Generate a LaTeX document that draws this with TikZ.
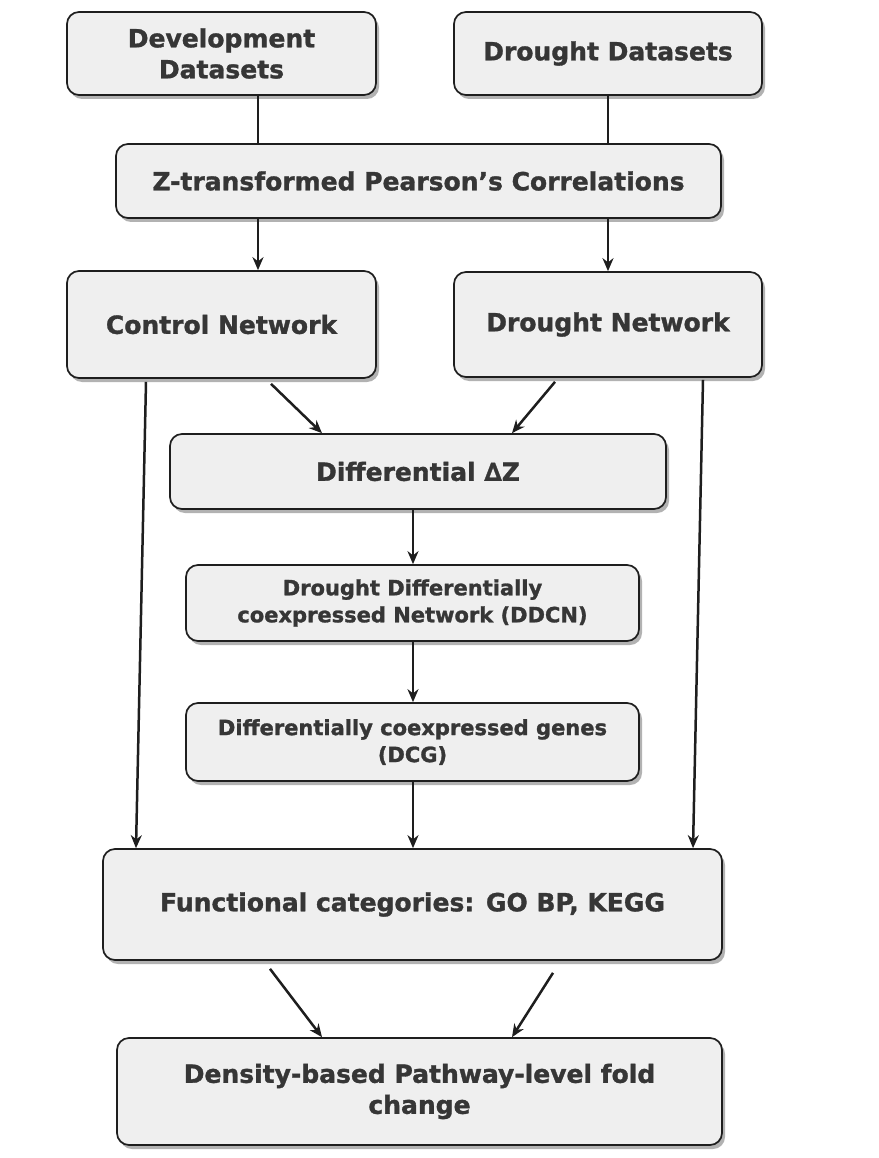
\documentclass[tikz,border=0pt]{standalone}
\usepackage{fontspec}
\setmainfont{DejaVu Sans}[BoldFeatures={FakeBold=1.3}]
\usetikzlibrary{shadows,calc,arrows.meta}
\definecolor{boxfill}{HTML}{EFEFEF}
\definecolor{textcol}{HTML}{363636}
\definecolor{linecol}{HTML}{1E1E1E}
\tikzset{
  box/.style={draw=linecol, line width=1.7pt, fill=boxfill, rounded corners=12pt,
    drop shadow={shadow xshift=3pt, shadow yshift=-4pt, opacity=0.3, fill=black},
    align=center, text=textcol, inner sep=0pt, anchor=center},
  bigtxt/.style={font=\bfseries\fontsize{25}{31}\selectfont},
  smalltxt/.style={font=\bfseries\fontsize{21}{27}\selectfont},
  conn/.style={draw=linecol, line width=2.5pt},
  arr/.style={conn, -{Stealth[length=13pt,width=11pt]}}
}
\begin{document}
\begin{tikzpicture}[x=1pt,y=-1pt]
\useasboundingbox[fill=white] (0,0) rectangle (878,1158);
\node[box,bigtxt,minimum width=309pt,minimum height=83pt] (dev) at (221.5,53.5) {Development\\Datasets};
\node[box,bigtxt,minimum width=308pt,minimum height=83pt] (dd) at (608,53.5) {Drought Datasets};
\node[box,bigtxt,minimum width=605pt,minimum height=74pt] (zt) at (418.5,181) {Z-transformed Pearson’s Correlations};
\node[box,bigtxt,minimum width=309pt,minimum height=107pt] (ctrl) at (221.5,324.5) {Control Network};
\node[box,bigtxt,minimum width=308pt,minimum height=105pt] (dn) at (608,324.5) {Drought Network};
\node[box,bigtxt,minimum width=496pt,minimum height=75pt] (diff) at (418,471.5) {Differential ∆Z};
\node[box,smalltxt,minimum width=453pt,minimum height=76pt] (ddcn) at (412.5,603) {Drought Differentially\\coexpressed Network (DDCN)};
\node[box,smalltxt,minimum width=453pt,minimum height=78pt] (dcg) at (412.5,742) {Differentially coexpressed genes\\(DCG)};
\node[box,bigtxt,minimum width=619pt,minimum height=111pt] (func) at (412.5,904.5) {Functional categories: GO BP, KEGG};
\node[box,bigtxt,minimum width=605pt,minimum height=107pt] (dens) at (419.5,1091.5) {Density-based Pathway-level fold\\change};
\coordinate (xl) at (258,0);
\coordinate (xr) at (608,0);
\coordinate (xm) at (413,0);
\draw[conn] (dev.south -| xl) -- (zt.north -| xl);
\draw[conn] (dd.south -| xr) -- (zt.north -| xr);
\draw[arr] (zt.south -| xl) -- (ctrl.north -| xl);
\draw[arr] (zt.south -| xr) -- (dn.north -| xr);
\draw[arr] ($(ctrl.south)+(49.5,5)$) -- ($(diff.north)+(-96,0)$);
\draw[arr] ($(dn.south)+(-53,4)$) -- ($(diff.north)+(94,0)$);
\draw[arr] (diff.south -| xm) -- (ddcn.north -| xm);
\draw[arr] (ddcn.south -| xm) -- (dcg.north -| xm);
\draw[arr] (dcg.south -| xm) -- (func.north -| xm);
\draw[arr] ($(ctrl.south)+(-75.5,3)$) -- ($(func.north)+(-276.5,0)$);
\draw[arr] ($(dn.south)+(95,2)$) -- ($(func.north)+(280.5,0)$);
\draw[arr] ($(func.south)+(-142.5,8)$) -- ($(dens.north)+(-97.5,0)$);
\draw[arr] ($(func.south)+(140.5,12)$) -- ($(dens.north)+(92.5,0)$);
\end{tikzpicture}
\end{document}
